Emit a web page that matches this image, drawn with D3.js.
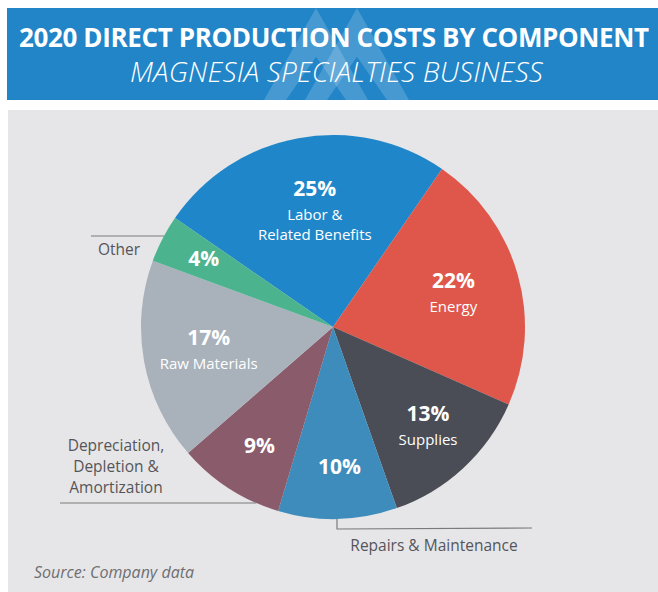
<!DOCTYPE html>
<html>
<head>
<meta charset="utf-8">
<script src="https://cdn.jsdelivr.net/npm/d3@7"></script>
<style>
  body { margin: 0; background: #fff; }
  svg { display: block; font-family: "Open Sans", "Noto Sans", sans-serif; }
</style>
</head>
<body>
<script>
var width = 658, height = 592;

// data (clockwise, starting with Labor)
const categories = ["Labor & Related Benefits", "Energy", "Supplies", "Repairs & Maintenance",
                    "Depreciation, Depletion & Amortization", "Raw Materials", "Other"];
const values = [25, 22, 13, 10, 9, 17, 4];
const innerNames = [["Labor &", "Related Benefits"], ["Energy"], ["Supplies"], [], [], ["Raw Materials"], []];
const colors = ["#1f87c9", "#df574a", "#4a4d55", "#3e8cbc", "#8a5b6b", "#a9b1bb", "#4bb38e"];

var cx = 333, cy = 327, R = 192;

var svg = d3.select("body")
.append("svg")
.attr("width", width)
.attr("height", height)
.attr("id", "svg");

// header band
svg.append("rect")
  .attr("x", 7).attr("y", 8)
  .attr("width", width - 7).attr("height", 92)
  .attr("fill", "#2185c8");

// faint chevrons behind the header text
function chevron(c){
  var top = 8, bot = 100, half = 52, w = 22;
  var innerTop = top + w * (bot - top) / half * 1.25;
  return [[c - half, bot], [c, top], [c + half, bot], [c + half - w, bot],
          [c, innerTop], [c - half + w, bot]];
}
svg.selectAll(".chev")
.data([316, 357])
.enter().append("polygon")
.attr("class", "chev")
.attr("points", function(d){ return chevron(d).join(" "); })
.attr("fill", "#ffffff")
.attr("fill-opacity", 0.17);

// squeeze a text to a given width with letter spacing (keeps glyph height)
function fitText(sel, w){
  var n = sel.text().length;
  var natural = sel.node().getComputedTextLength();
  sel.attr("letter-spacing", ((w - natural) / (n - 1)).toFixed(2));
}

var title = svg.append("text")
  .attr("x", 19).attr("y", 47)
  .attr("font-size", 26).attr("font-weight", "bold")
  .attr("fill", "#fff")
  .text("2020 DIRECT PRODUCTION COSTS BY COMPONENT");
fitText(title, 630);

var sub = svg.append("text")
  .attr("x", 130).attr("y", 82)
  .attr("font-size", 28).attr("font-style", "italic").attr("font-weight", 300)
  .attr("fill", "#fff")
  .text("MAGNESIA SPECIALTIES BUSINESS");
fitText(sub, 413);

// grey panel
svg.append("rect")
  .attr("x", 8).attr("y", 110)
  .attr("width", width - 8).attr("height", height - 110)
  .attr("fill", "#e6e6e8");

var g = svg.append("g").attr("transform", "translate(" + cx + "," + cy + ")");

var start = -55.4 * Math.PI / 180;
var pie = d3.pie().sort(null).value(function(d){ return d; })
  .startAngle(start).endAngle(start + 2 * Math.PI);
var arcs = pie(values);

var arc = d3.arc().innerRadius(0).outerRadius(R);

g.selectAll(".slice")
.data(arcs)
.enter().append("path")
.attr("class", "slice")
.attr("d", arc)
.attr("fill", function(d, i){ return colors[i]; });

// labels inside slices: smaller slices sit further out
var labels = g.selectAll(".lbl")
.data(arcs)
.enter().append("g")
.attr("class", "lbl")
.attr("transform", function(d){
    var r = 155 - 1.5 * d.value;
    var c = d3.arc().innerRadius(r).outerRadius(r).centroid(d);
    return "translate(" + (c[0] + 3) + "," + c[1] + ")";
});

labels.each(function(d, i){
    var el = d3.select(this);
    var names = innerNames[i];
    var span = names.length ? 26 + 20 * (names.length - 1) : 0;
    var y0 = -span / 2;
    el.append("text")
      .attr("text-anchor", "middle")
      .attr("y", y0).attr("dy", "0.35em")
      .attr("font-size", 21).attr("font-weight", "bold")
      .attr("fill", "#fff")
      .text(d.value + "%");
    names.forEach(function(n, k){
      el.append("text")
        .attr("text-anchor", "middle")
        .attr("y", y0 + 26 + 20 * k).attr("dy", "0.35em")
        .attr("font-size", 15)
        .attr("fill", "#fff")
        .text(n);
    });
});

// outside labels with leader lines
var lineColor = "#7a7a7a", outColor = "#555559";

function edgeX(y){ return cx - Math.sqrt(R * R - (y - cy) * (y - cy)); }

svg.append("line")
  .attr("x1", 91).attr("y1", 236).attr("x2", edgeX(236)).attr("y2", 236)
  .attr("stroke", lineColor).attr("stroke-width", 1.2);
svg.append("text")
  .attr("x", 119).attr("y", 250).attr("dy", "0.35em")
  .attr("text-anchor", "middle").attr("font-size", 15.5)
  .attr("fill", outColor)
  .text(categories[6]);

svg.append("line")
  .attr("x1", 60).attr("y1", 503).attr("x2", edgeX(503)).attr("y2", 503)
  .attr("stroke", lineColor).attr("stroke-width", 1.2);
["Depreciation,", "Depletion &", "Amortization"].forEach(function(t, k){
  svg.append("text")
    .attr("x", 116).attr("y", 446 + 21 * k).attr("dy", "0.35em")
    .attr("text-anchor", "middle").attr("font-size", 15.5)
    .attr("fill", outColor)
    .text(t);
});

var repX = 337;
svg.append("polyline")
  .attr("points", [[repX, cy + Math.sqrt(R * R - (repX - cx) * (repX - cx))], [repX, 529], [532, 528]].join(" "))
  .attr("fill", "none")
  .attr("stroke", lineColor).attr("stroke-width", 1.2);
svg.append("text")
  .attr("x", 434).attr("y", 546).attr("dy", "0.35em")
  .attr("text-anchor", "middle").attr("font-size", 15.5)
  .attr("fill", outColor)
  .text(categories[3]);

svg.append("text")
  .attr("x", 34).attr("y", 578)
  .attr("font-size", 16).attr("font-style", "italic")
  .attr("fill", "#6e6e72")
  .text("Source: Company data");
</script>
</body>
</html>
